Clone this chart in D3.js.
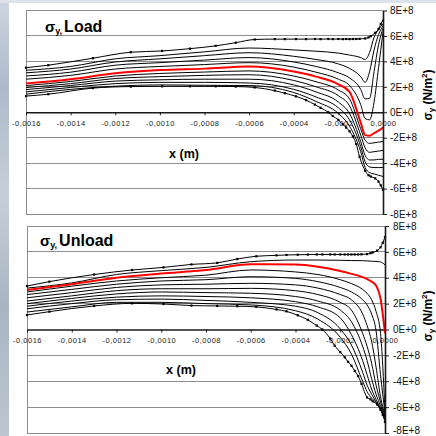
<!DOCTYPE html>
<html><head><meta charset="utf-8">
<script src="https://cdn.jsdelivr.net/npm/d3@7"></script>
<style>html,body{margin:0;padding:0;background:#fff}svg{display:block}</style>
</head><body><svg id="c" width="436" height="436"></svg>
<script>
// ---------- data (stress values in units of 1E+8 N/m², x in metres) ----------
const xTickValues = [-0.0016, -0.0014, -0.0012, -0.0010, -0.0008, -0.0006, -0.0004, -0.0002, 0];
const xTickLabels = ["-0,0016", "-0,0014", "-0,0012", "-0,0010", "-0,0008", "-0,0006", "-0,0004", "-0,0002", "0,0000"];
const yTickValues = [-8, -6, -4, -2, 0, 2, 4, 6, 8];
const yTickLabels = ["-8E+8", "-6E+8", "-4E+8", "-2E+8", "0E+0", "2E+8", "4E+8", "6E+8", "8E+8"];

const xCoarse = [-0.0016, -0.0014, -0.0012, -0.0010, -0.0008, -0.0006, -0.0004, -0.0003, -0.0002, -0.00015, -0.0001, -0.00008, -0.00006, -0.00004, -0.00002, 0];
const xMesh = [-0.0016, -0.0015, -0.0013, -0.00113, -0.00099, -0.000865, -0.00075, -0.00066, -0.000575, -0.000485, -0.00044, -0.00039, -0.000345, -0.000305, -0.00028, -0.000245, -0.000225, -0.0002, -0.00018, -0.000165, -0.00015, -0.000135, -0.00012, -0.000105, -0.00008, -0.000065, -0.000055, -0.000035, -0.00002, -0.00001, 0];

// Load panel
const loadTop = [3.5, 3.7, 4.25, 4.72, 4.82, 5.0, 5.22, 5.47, 5.72, 5.75, 5.75, 5.75, 5.75, 5.76, 5.75, 5.76, 5.75, 5.76, 5.75, 5.76, 5.75, 5.76, 5.76, 5.77, 5.8, 5.88, 5.98, 6.25, 6.55, 6.95, 7.2];
const loadBottom = [1.27, 1.42, 1.9, 2.02, 2.04, 2.04, 2.04, 2.02, 1.95, 1.7, 1.5, 1.25, 0.95, 0.6, 0.35, 0.0, -0.3, -0.6, -0.95, -1.2, -1.5, -1.9, -2.5, -3.5, -4.6, -4.95, -5.05, -5.2, -5.45, -5.75, -6.1];
const loadL1 = [3.3, 3.6, 4.2, 4.45, 4.75, 5.05, 4.9, 4.8, 4.65, 4.5, 4.3, 4.15, 4.7, 5.9, 6.5, 6.95];
const loadL2 = [3.1, 3.4, 3.95, 4.2, 4.45, 4.68, 4.4, 4.15, 3.8, 3.45, 2.8, 2.35, 3.2, 4.9, 6.1, 6.8];
const loadL3 = [2.85, 3.15, 3.7, 3.9, 4.1, 4.3, 3.95, 3.6, 3.1, 2.7, 1.8, 1.05, 1.1, 3.2, 5.3, 6.6];
const loadL4 = [2.6, 2.9, 3.4, 3.6, 3.75, 3.9, 3.55, 3.15, 2.6, 2.1, 0.6, -0.5, -0.6, 0.8, 3.5, 6.3];
const loadRed = [2.27, 2.6, 3.06, 3.32, 3.43, 3.6, 3.2, 2.8, 2.2, 1.6, -0.8, -1.8, -1.85, -1.65, -1.45, -1.2];
const loadB1 = [2.1, 2.42, 2.85, 3.05, 3.16, 3.25, 2.85, 2.4, 1.75, 1.05, -1.3, -2.2, -2.45, -2.4, -2.35, -2.3];
const loadB2 = [1.94, 2.25, 2.65, 2.8, 2.9, 2.95, 2.5, 2.0, 1.3, 0.5, -1.8, -2.8, -3.15, -3.1, -3.05, -3.0];
const loadB3 = [1.78, 2.1, 2.45, 2.55, 2.6, 2.6, 2.15, 1.6, 0.8, -0.1, -2.3, -3.4, -3.75, -3.75, -3.7, -3.7];
const loadB4 = [1.6, 1.95, 2.25, 2.35, 2.35, 2.3, 1.8, 1.2, 0.35, -0.6, -2.7, -3.9, -4.3, -4.35, -4.35, -4.35];
const loadB5 = [1.42, 1.8, 2.05, 2.15, 2.12, 2.1, 1.55, 0.85, -0.1, -1.1, -3.1, -4.35, -4.75, -4.85, -4.95, -5.05];

// Unload panel
const unloadTop = [3.36, 3.7, 4.25, 4.6, 4.8, 5.03, 5.15, 5.45, 5.66, 5.73, 5.76, 5.78, 5.79, 5.8, 5.8, 5.8, 5.8, 5.8, 5.8, 5.8, 5.8, 5.8, 5.8, 5.81, 5.83, 5.9, 5.95, 6.1, 6.35, 6.7, 7.15];
const unloadBottom = [1.12, 1.38, 1.82, 2.02, 1.97, 1.85, 1.82, 1.8, 1.75, 1.55, 1.4, 1.1, 0.75, 0.3, 0.0, -0.7, -1.25, -1.75, -2.15, -2.5, -2.8, -3.2, -3.6, -4.2, -5.25, -5.4, -5.55, -5.8, -6.2, -6.6, -7.15];
const unloadU1 = [3.2, 3.6, 4.25, 4.55, 4.8, 5.24, 5.37, 5.37, 5.35, 5.33, 5.32, 5.3, 5.28, 5.26, 5.22, 5.0];
const unloadRed = [3.05, 3.5, 4.0, 4.32, 4.6, 5.04, 5.02, 4.85, 4.52, 4.3, 4.05, 3.9, 3.7, 3.4, 2.4, -0.3];
const unloadB1 = [2.9, 3.35, 3.75, 4.0, 4.2, 4.6, 4.45, 4.25, 3.85, 3.55, 3.1, 2.8, 2.3, 1.4, -0.3, -6.3];
const unloadB2 = [2.7, 3.1, 3.5, 3.75, 3.85, 4.08, 3.95, 3.7, 3.25, 2.9, 2.3, 1.9, 1.2, -0.1, -3.5, -6.45];
const unloadB3 = [2.45, 2.85, 3.25, 3.45, 3.5, 3.57, 3.45, 3.2, 2.7, 2.3, 1.2, 0.3, -0.9, -2.9, -5.2, -6.55];
const unloadB4 = [2.2, 2.6, 3.0, 3.15, 3.15, 3.18, 3.0, 2.7, 2.1, 1.5, -0.3, -1.3, -2.6, -4.3, -5.6, -6.65];
const unloadB5 = [2.0, 2.4, 2.75, 2.9, 2.85, 2.8, 2.55, 2.2, 1.5, 0.6, -1.3, -2.4, -3.8, -5.0, -5.9, -6.75];
const unloadB6 = [1.8, 2.2, 2.5, 2.6, 2.55, 2.45, 2.15, 1.75, 0.9, -0.4, -2.4, -3.5, -4.6, -5.4, -6.1, -6.85];
const unloadB7 = [1.6, 2.0, 2.3, 2.35, 2.25, 2.1, 1.8, 1.3, 0.05, -1.2, -3.3, -4.3, -5.0, -5.6, -6.2, -6.9];
const unloadB8 = [1.35, 1.75, 2.1, 2.1, 2.0, 1.9, 1.45, 0.8, -0.6, -1.9, -4.0, -4.8, -5.3, -5.65, -6.1, -7.0];

// ---------- drawing ----------
const W = 436, H = 436;
const FONT = "'Liberation Sans', Arial, Helvetica, sans-serif";
const svg = d3.select("#c");
const defs = svg.append("defs");
const grad = defs.append("linearGradient").attr("id", "bg").attr("x1", 0).attr("y1", 0).attr("x2", 0).attr("y2", 1);
[[0, "#cdd6e0"], [0.2, "#aebacb"], [0.45, "#c6cfd9"], [0.7, "#a9b5c3"], [1, "#bcc6d2"]].forEach(s =>
  grad.append("stop").attr("offset", s[0]).attr("stop-color", s[1]));
svg.append("rect").attr("width", W).attr("height", H).attr("fill", "#fff");
svg.append("rect").attr("x", 0).attr("y", 0).attr("width", 9).attr("height", H).attr("fill", "url(#bg)");
svg.append("rect").attr("x", 0).attr("y", 0).attr("width", W).attr("height", 3).attr("fill", "#dce3eb");

function drawPanel(p) {
  const x = d3.scaleLinear().domain([-0.0016, 0]).range([p.x0, p.x1]);
  const y = d3.scaleLinear().domain([-8, 8]).range([p.y1, p.y0]);
  const g = svg.append("g");

  // gridlines + frame
  g.selectAll("line.grid").data(yTickValues.filter(v => v !== 0)).join("line")
    .attr("x1", p.x0).attr("x2", p.x1).attr("y1", d => y(d)).attr("y2", d => y(d))
    .attr("stroke", "#8c8c8c").attr("stroke-width", 1).attr("shape-rendering", "crispEdges");
  g.append("line").attr("x1", p.x0).attr("x2", p.x0).attr("y1", y(8)).attr("y2", y(-8))
    .attr("stroke", "#8c8c8c").attr("shape-rendering", "crispEdges");

  // x axis at zero
  const xAxis = d3.axisBottom(x).tickValues(xTickValues).tickFormat((d, i) => xTickLabels[i])
    .tickSize(3).tickSizeOuter(0).tickPadding(5);
  const ga = g.append("g").attr("transform", `translate(0,${y(0)})`).call(xAxis);
  ga.select(".domain").attr("stroke", "#1a1a1a").attr("stroke-width", 1.6);
  ga.selectAll(".tick line").attr("stroke", "#1a1a1a");
  ga.selectAll(".tick text").attr("font-family", FONT).attr("font-size", 7.5)
    .attr("letter-spacing", 0.5).attr("fill", "#222");

  // x title
  g.append("text").attr("x", p.xtx).attr("y", p.xty).attr("text-anchor", "middle")
    .attr("font-family", FONT).attr("font-weight", "bold").attr("font-size", 12.5).text("x (m)");

  // curves
  const line = d3.line().x(d => x(d[0])).y(d => y(d[1])).curve(d3.curveMonotoneX);
  const pairs = (xs, ys) => xs.map((v, i) => [v, ys[i]]);
  p.black.forEach(s => g.append("path").attr("d", line(pairs(xCoarse, s)))
    .attr("fill", "none").attr("stroke", "#000").attr("stroke-width", 1));
  [p.top, p.bottom].forEach(s => {
    const pts = pairs(xMesh, s);
    g.append("path").attr("d", line(pts)).attr("fill", "none").attr("stroke", "#000").attr("stroke-width", 1);
    g.selectAll(null).data(pts).join("rect")
      .attr("x", d => x(d[0]) - 1.1).attr("y", d => y(d[1]) - 1.1)
      .attr("width", 2.2).attr("height", 2.2).attr("fill", "#000");
  });
  g.append("path").attr("d", line(pairs(xCoarse, p.red)))
    .attr("fill", "none").attr("stroke", "#ff0000").attr("stroke-width", 2);

  // right axis
  const yAxis = d3.axisRight(y).tickValues(yTickValues).tickFormat((d, i) => yTickLabels[i])
    .tickSize(4).tickPadding(p.pad).tickSizeOuter(0);
  const gy = g.append("g").attr("transform", `translate(${p.x1},0)`).call(yAxis);
  gy.select(".domain").attr("stroke", "#1a1a1a").attr("stroke-width", 1.6);
  gy.selectAll(".tick line").attr("stroke", "#1a1a1a");
  gy.selectAll(".tick text").attr("font-family", FONT).attr("font-size", 10).attr("fill", "#111")
    .attr("dy", d => (d === -8 ? p.lastDy : "0.32em"));

  // y title (rotated)
  const yt = g.append("text").attr("transform", `translate(${p.ytx},${p.yty}) rotate(-90)`)
    .attr("text-anchor", "middle").attr("font-family", FONT).attr("font-weight", "bold").attr("font-size", 12);
  yt.append("tspan").text("σ");
  yt.append("tspan").attr("font-size", 8).attr("dy", 2).text("y");
  yt.append("tspan").attr("dy", -2).text(" (N/m");
  yt.append("tspan").attr("font-size", 8).attr("dy", -5).text("2");
  yt.append("tspan").attr("dy", 5).text(")");

  // panel title
  const t = g.append("text").attr("x", p.tx).attr("y", p.ty)
    .attr("font-family", FONT).attr("font-weight", "bold");
  t.append("tspan").attr("font-size", 15).text("σ");
  t.append("tspan").attr("font-size", 9).attr("dy", 2).text("y,");
  t.append("tspan").attr("font-size", 16).attr("dy", -2).attr("dx", 2).text(p.title);
}

drawPanel({
  x0: 26, x1: 383, y0: 10.5, y1: 214, pad: 3, lastDy: "0.32em",
  xtx: 184, xty: 158, ytx: 431.5, yty: 95,
  tx: 45, ty: 32, title: "Load",
  top: loadTop, bottom: loadBottom, red: loadRed,
  black: [loadL1, loadL2, loadL3, loadL4, loadB1, loadB2, loadB3, loadB4, loadB5]
});
drawPanel({
  x0: 27, x1: 385, y0: 226, y1: 433, pad: 4, lastDy: "0.05em",
  xtx: 181, xty: 374, ytx: 431.5, yty: 316,
  tx: 40, ty: 246, title: "Unload",
  top: unloadTop, bottom: unloadBottom, red: unloadRed,
  black: [unloadU1, unloadB1, unloadB2, unloadB3, unloadB4, unloadB5, unloadB6, unloadB7, unloadB8]
});
</script></body></html>
